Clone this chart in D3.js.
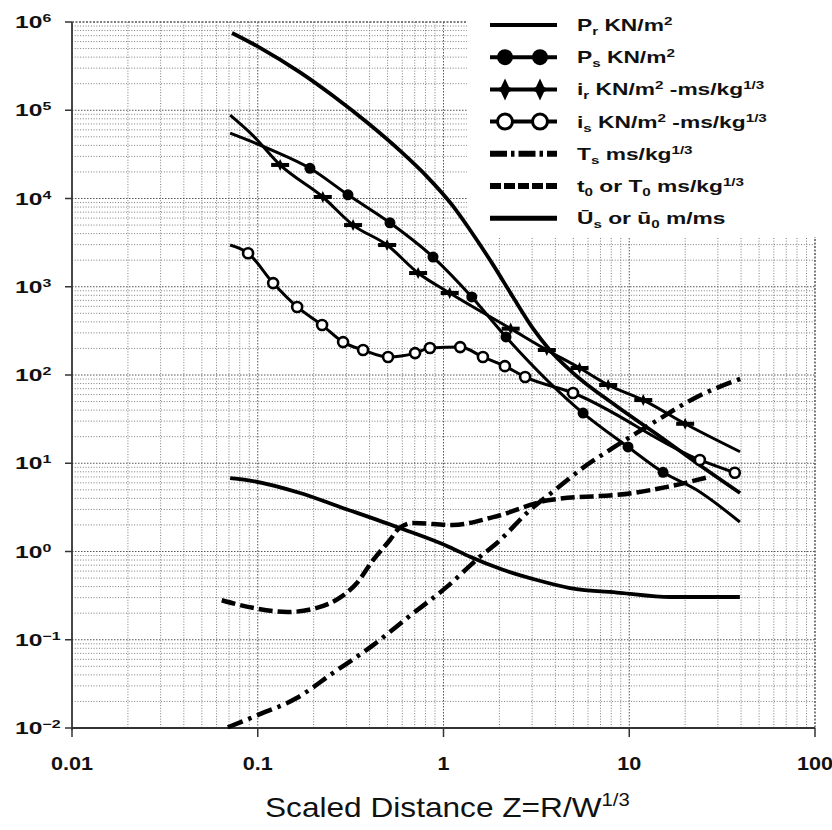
<!DOCTYPE html>
<html>
<head>
<meta charset="utf-8">
<script src="https://cdn.jsdelivr.net/npm/d3@7"></script>
<style>
  html, body { margin: 0; padding: 0; background: #fff; }
  svg { display: block; font-family: "Liberation Sans", Arial, sans-serif; }
</style>
</head>
<body>
<svg id="chart"></svg>
<script>
// Axis ticks
const xTicks = [0.01, 0.1, 1, 10, 100];
const xTickLabels = ["0.01", "0.1", "1", "10", "100"];
const yExponents = [-2, -1, 0, 1, 2, 3, 4, 5, 6];

// Series values [Z, value]
const prData = [[0.0727, 7.5e5], [0.103, 5.1e5], [0.169, 2.69e5], [0.254, 1.46e5], [0.387, 7.3e4],
  [0.583, 3.48e4], [0.815, 1.77e4], [1.12, 8.3e3], [1.39, 4.4e3], [1.85, 1.77e3], [2.37, 760],
  [3.03, 337], [3.74, 191], [4.92, 108], [8.6, 44], [14.7, 20], [24, 9.5], [39.5, 4.6]];

const psData = [[0.071, 5.5e4], [0.119, 3.54e4], [0.191, 2.2e4], [0.306, 1.1e4], [0.515, 5.3e3],
  [0.878, 2.17e3], [1.42, 766], [2.17, 270], [5.64, 37], [9.85, 15.3], [15.2, 7.9], [23, 5.0], [39.4, 2.16]];
const psMarks = [[0.191, 2.2e4], [0.306, 1.1e4], [0.515, 5.3e3], [0.878, 2.17e3], [1.42, 766],
  [2.17, 270], [5.64, 37], [9.85, 15.3], [15.2, 7.9]];

const irData = [[0.071, 8.8e4], [0.094, 5.2e4], [0.132, 2.4e4], [0.224, 1.04e4], [0.326, 5.0e3],
  [0.497, 2.97e3], [0.73, 1.43e3], [1.08, 850], [2.3, 335], [3.6, 192], [5.4, 120], [7.7, 77],
  [11.9, 52], [20, 28], [39.5, 13.5]];
const irMarks = [[0.132, 2.4e4], [0.224, 1.04e4], [0.326, 5.0e3], [0.497, 2.97e3], [0.73, 1.43e3],
  [1.08, 850], [2.3, 335], [3.6, 192], [5.4, 120], [7.7, 77], [11.9, 52], [20, 28]];

const isData = [[0.071, 2970], [0.0887, 2.4e3], [0.121, 1.1e3], [0.163, 590], [0.222, 368],
  [0.288, 236], [0.369, 192], [0.503, 160], [0.703, 177], [0.845, 202], [1.23, 207], [1.63, 160],
  [2.14, 126], [2.75, 95], [4.98, 62.5], [24, 10.9], [37, 7.8]];
const isMarks = [[0.0887, 2.4e3], [0.121, 1.1e3], [0.163, 590], [0.222, 368], [0.288, 236],
  [0.369, 192], [0.503, 160], [0.703, 177], [0.845, 202], [1.23, 207], [1.63, 160], [2.14, 126],
  [2.75, 95], [4.98, 62.5], [24, 10.9], [37, 7.8]];

const tsData = [[0.069, 0.0102], [0.1, 0.014], [0.163, 0.022], [0.254, 0.042], [0.418, 0.087],
  [0.636, 0.176], [1.045, 0.40], [1.57, 0.87], [1.94, 1.25], [2.92, 2.95], [4.0, 5.0], [5.6, 8.8],
  [8.2, 15], [13.4, 28.6], [23, 56], [40.5, 92]];

const t0Data = [[0.064, 0.28], [0.094, 0.23], [0.144, 0.206], [0.208, 0.23], [0.277, 0.30],
  [0.342, 0.44], [0.418, 0.80], [0.515, 1.35], [0.58, 1.85], [0.685, 2.1], [1.12, 2.0], [1.85, 2.45],
  [3.66, 3.8], [10.5, 4.6], [16, 5.4], [27, 7.0]];

const usData = [[0.071, 6.8], [0.0875, 6.45], [0.169, 4.6], [0.277, 3.2], [0.58, 1.85], [1.08, 1.12],
  [1.39, 0.87], [2.09, 0.62], [3.18, 0.475], [4.8, 0.385], [8.9, 0.34], [16.6, 0.305], [39.4, 0.305]];

// Legend labels: [text, "sub" | "sup" | ""]
const legendLabels = [
  [["P", ""], ["r", "sub"], [" KN/m", ""], ["2", "sup"]],
  [["P", ""], ["s", "sub"], [" KN/m", ""], ["2", "sup"]],
  [["i", ""], ["r", "sub"], ["  KN/m", ""], ["2", "sup"], [" -ms/kg", ""], ["1/3", "sup"]],
  [["i", ""], ["s", "sub"], [" KN/m", ""], ["2", "sup"], [" -ms/kg", ""], ["1/3", "sup"]],
  [["T", ""], ["s", "sub"], [" ms/kg", ""], ["1/3", "sup"]],
  [["t", ""], ["0", "sub"], [" or T", ""], ["0", "sub"], [" ms/kg", ""], ["1/3", "sup"]],
  [["\u016A", ""], ["s", "sub"], [" or  \u016B", ""], ["0", "sub"], [" m/ms", ""]]
];

// Chart dimensions
const width = 832;
const height = 830;
const plotL = 72, plotR = 815, plotT = 22, plotB = 728;

const svg = d3.select("#chart")
  .attr("width", width)
  .attr("height", height);

const x = d3.scaleLog().domain([0.01, 100]).range([plotL, plotR]);
const y = d3.scaleLog().domain([0.01, 1e6]).range([plotB, plotT]);

// rich text with sub / superscripts
const addParts = (textSel, parts, subSize, subDy, supDy) => {
  let shift = 0;
  parts.forEach(([str, kind]) => {
    const target = kind === "sub" ? subDy : kind === "sup" ? supDy : 0;
    textSel.append("tspan")
      .attr("dy", target - shift)
      .attr("font-size", kind ? subSize : null)
      .text(str);
    shift = target;
  });
};

// Grid
const xGrid = [];
for (let e = -2; e < 2; e++) for (let m = 1; m < 10; m++) xGrid.push(m * Math.pow(10, e));
const yGrid = [];
for (let e = -2; e < 6; e++) for (let m = 1; m < 10; m++) yGrid.push(m * Math.pow(10, e));
const isMajor = v => Math.abs(Math.log10(v) - Math.round(Math.log10(v))) < 1e-9;

const grid = svg.append("g")
  .attr("stroke-width", 1);

grid.selectAll(".vg")
  .data(xGrid.slice(1))
  .enter()
  .append("line")
  .attr("x1", d => x(d)).attr("x2", d => x(d))
  .attr("y1", plotT).attr("y2", plotB)
  .attr("stroke", d => isMajor(d) ? "#555" : "#7c7c7c")
  .attr("stroke-dasharray", d => isMajor(d) ? "1.5,1.5" : "1,1.7");

grid.selectAll(".hg")
  .data(yGrid.slice(1))
  .enter()
  .append("line")
  .attr("x1", plotL).attr("x2", plotR)
  .attr("y1", d => y(d)).attr("y2", d => y(d))
  .attr("stroke", d => isMajor(d) ? "#555" : "#7c7c7c")
  .attr("stroke-dasharray", d => isMajor(d) ? "1.5,1.5" : "1,1.7");

// Frame
svg.append("line").attr("x1", plotL).attr("x2", plotL).attr("y1", plotT).attr("y2", plotB + 2)
  .attr("stroke", "#333").attr("stroke-width", 1.8);
svg.append("line").attr("x1", plotL).attr("x2", plotR).attr("y1", plotB).attr("y2", plotB)
  .attr("stroke", "#333").attr("stroke-width", 1.8);
svg.append("line").attr("x1", plotL).attr("x2", plotR).attr("y1", plotT).attr("y2", plotT)
  .attr("stroke", "#555").attr("stroke-width", 1.5).attr("stroke-dasharray", "2,1.5");
svg.append("line").attr("x1", plotR).attr("x2", plotR).attr("y1", plotT).attr("y2", plotB)
  .attr("stroke", "#555").attr("stroke-width", 1.5).attr("stroke-dasharray", "2,1.5");

// Ticks
svg.selectAll(".ytick")
  .data(yExponents)
  .enter()
  .append("line")
  .attr("x1", plotL - 7).attr("x2", plotL)
  .attr("y1", d => y(Math.pow(10, d))).attr("y2", d => y(Math.pow(10, d)))
  .attr("stroke", "#333").attr("stroke-width", 1.5);

svg.selectAll(".xtick")
  .data(xTicks)
  .enter()
  .append("line")
  .attr("x1", d => x(d)).attr("x2", d => x(d))
  .attr("y1", plotB).attr("y2", plotB + 9)
  .attr("stroke", "#333").attr("stroke-width", 1.5);

// Y labels 10^n
yExponents.forEach(e => {
  const t = svg.append("text")
    .attr("transform", `translate(15, ${y(Math.pow(10, e)) + 6}) scale(1.45, 1)`)
    .attr("font-size", 17)
    .attr("font-weight", "bold")
    .attr("fill", "#111");
  addParts(t, [["10", ""], [String(e).replace("-", "\u2212"), "sup"]], 11, 0, -6);
});

// X labels
xTicks.forEach((v, i) => {
  svg.append("text")
    .attr("transform", `translate(${x(v)}, 770) scale(1.2, 1)`)
    .attr("text-anchor", "middle")
    .attr("font-size", 18)
    .attr("font-weight", "bold")
    .attr("fill", "#111")
    .text(xTickLabels[i]);
});

// X title
const title = svg.append("text")
  .attr("transform", "translate(265, 817) scale(1.13, 1)")
  .attr("font-size", 28)
  .attr("fill", "#111");
addParts(title, [["Scaled Distance Z=R/W", ""], ["1/3", "sup"]], 18, 0, -11);

// Legend box hides the grid
svg.append("rect")
  .attr("x", 467).attr("y", 0)
  .attr("width", width - 467).attr("height", 237)
  .attr("fill", "#fff");

// Lines
const line = d3.line()
  .x(d => x(d[0]))
  .y(d => y(d[1]))
  .curve(d3.curveMonotoneX);

const series = [
  { data: prData, w: 3.8, dash: null },
  { data: psData, w: 3, dash: null },
  { data: irData, w: 3, dash: null },
  { data: isData, w: 3, dash: null },
  { data: tsData, w: 4.5, dash: "16,6,3.5,6" },
  { data: t0Data, w: 4.5, dash: "14,5" },
  { data: usData, w: 3.8, dash: null }
];

svg.selectAll(".series")
  .data(series)
  .enter()
  .append("path")
  .attr("d", d => line(d.data))
  .attr("fill", "none")
  .attr("stroke", "#000")
  .attr("stroke-width", d => d.w)
  .attr("stroke-dasharray", d => d.dash)
  .attr("stroke-linecap", "butt");

// Markers
const starPath = s => `M0,${-11 * s} L${4 * s},${-2.5 * s} L${9 * s},0 L${4 * s},${2.5 * s} L0,${11 * s} L${-4 * s},${2.5 * s} L${-9 * s},0 L${-4 * s},${-2.5 * s} Z`;

svg.selectAll(".psm")
  .data(psMarks)
  .enter()
  .append("circle")
  .attr("cx", d => x(d[0])).attr("cy", d => y(d[1]))
  .attr("r", 5.5)
  .attr("fill", "#000");

svg.selectAll(".ism")
  .data(isMarks)
  .enter()
  .append("circle")
  .attr("cx", d => x(d[0])).attr("cy", d => y(d[1]))
  .attr("r", 5)
  .attr("fill", "#fff")
  .attr("stroke", "#000")
  .attr("stroke-width", 2.6);

const irm = svg.selectAll(".irm")
  .data(irMarks)
  .enter()
  .append("g")
  .attr("transform", d => `translate(${x(d[0])}, ${y(d[1])})`);
irm.append("rect")
  .attr("x", -9).attr("y", -2).attr("width", 18).attr("height", 4)
  .attr("fill", "#000");
irm.append("path")
  .attr("d", starPath(0.55))
  .attr("fill", "#000");

// Legend
const lx1 = 490, lx2 = 557, rowY = i => 25 + i * 32.2;
const legendStyles = [
  { w: 4, dash: null, mark: null },
  { w: 4, dash: null, mark: "dot" },
  { w: 4, dash: null, mark: "star" },
  { w: 4, dash: null, mark: "open" },
  { w: 6, dash: "17,4,3.5,4", mark: null },
  { w: 6, dash: "11,3", mark: null },
  { w: 5, dash: null, mark: null }
];

legendStyles.forEach((s, i) => {
  const ly = rowY(i);
  svg.append("line")
    .attr("x1", lx1).attr("x2", lx2).attr("y1", ly).attr("y2", ly)
    .attr("stroke", "#000").attr("stroke-width", s.w)
    .attr("stroke-dasharray", s.dash);
  [505, 540].forEach(mx => {
    if (s.mark === "dot") {
      svg.append("circle").attr("cx", mx).attr("cy", ly).attr("r", 8).attr("fill", "#000");
    } else if (s.mark === "open") {
      svg.append("circle").attr("cx", mx).attr("cy", ly).attr("r", 7.5)
        .attr("fill", "#fff").attr("stroke", "#000").attr("stroke-width", 3);
    } else if (s.mark === "star") {
      svg.append("path").attr("transform", `translate(${mx}, ${ly})`)
        .attr("d", starPath(1)).attr("fill", "#000");
    }
  });
  const t = svg.append("text")
    .attr("transform", `translate(577, ${ly + 6}) scale(1.38, 1)`)
    .attr("font-size", 16.5)
    .attr("font-weight", "bold")
    .attr("fill", "#111");
  addParts(t, legendLabels[i], 11, 4, -6);
});
</script>
</body>
</html>
